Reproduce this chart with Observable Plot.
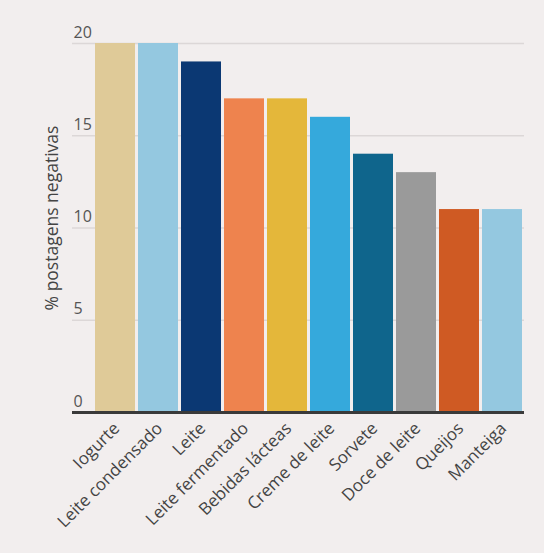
<!DOCTYPE html>
<html>
<head>
<meta charset="utf-8">
<script src="https://cdn.jsdelivr.net/npm/d3@7"></script>
<script src="https://cdn.jsdelivr.net/npm/@observablehq/plot@0.6"></script>
<style>
  html, body { margin: 0; padding: 0; background: #f2eeee; }
  #chart svg { display: block; }
</style>
</head>
<body>
<div id="chart"></div>
<script>
const categories = ["Iogurte", "Leite condensado", "Leite", "Leite fermentado", "Bebidas lácteas", "Creme de leite", "Sorvete", "Doce de leite", "Queijos", "Manteiga"];
const values = [20, 20, 19, 17, 17, 16, 14, 13, 11, 11];
const colors = ["#dfca98", "#94c8e0", "#0b3873", "#ee834e", "#e4b73a", "#35a9dc", "#0f658c", "#9a9a9a", "#cf5a23", "#94c8e0"];
const yTicks = [0, 5, 10, 15, 20];
const yLabel = "% postagens negativas";

const data = categories.map((c, i) => ({cat: c, value: values[i], color: colors[i]}));

const font = "'Open Sans', 'Noto Sans', sans-serif";
const yMid = (yTicks[0] + yTicks[yTicks.length - 1]) / 2;

const chart = Plot.plot({
  width: 544,
  height: 553,
  marginLeft: 72,
  marginRight: 20,
  marginTop: 22,
  marginBottom: 141,
  style: {background: "#f2eeee", fontFamily: font},
  x: {domain: categories, range: [93, 523], paddingInner: 0.08, paddingOuter: 0.04, axis: null},
  y: {domain: [0, 20], range: [412, 43], axis: null},
  marks: [
    Plot.ruleY(yTicks.filter(d => d > 0), {stroke: "#dcd7d7", strokeWidth: 1.3}),
    Plot.barY(data, {x: "cat", y: "value", fill: "color"}),
    Plot.ruleY([0], {stroke: "#3a3a3a", strokeWidth: 3}),
    Plot.text(yTicks, {y: d => d, text: d => String(d), frameAnchor: "left", textAnchor: "start", dx: 1, dy: -11, fontSize: 16, fill: "#555"}),
    Plot.text([yLabel], {y: () => yMid, text: d => d, frameAnchor: "left", textAnchor: "middle", rotate: -90, dx: -20, dy: -10, fontSize: 17.5, fill: "#444"}),
    Plot.text(data, {x: "cat", text: "cat", frameAnchor: "bottom", rotate: -45, textAnchor: "end", dy: 17, dx: 5, fontSize: 17, fill: "#444"})
  ]
});
document.getElementById("chart").appendChild(chart);
</script>
</body>
</html>
